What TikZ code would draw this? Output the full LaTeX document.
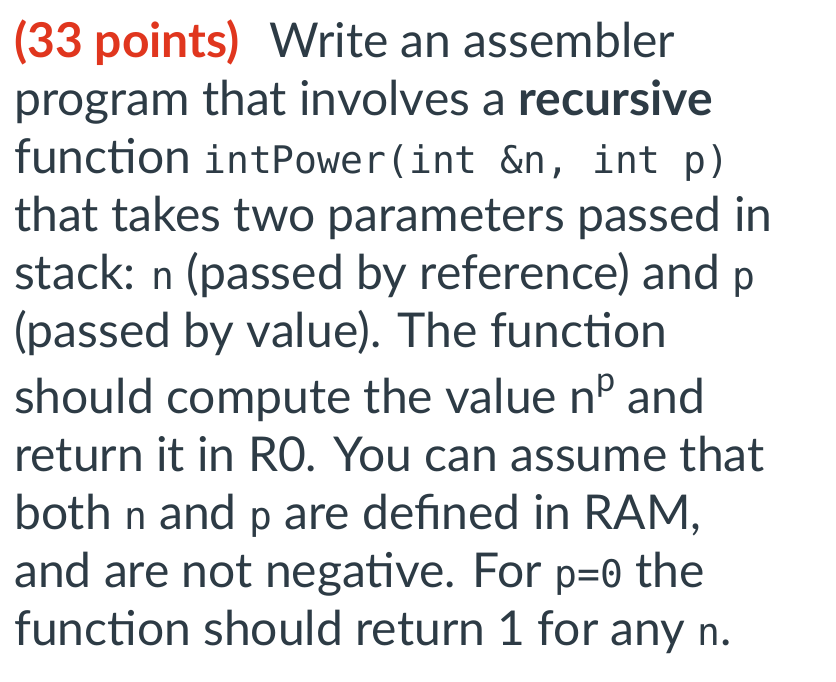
\documentclass[tikz,border=0pt]{standalone}
\usepackage{fontspec}
\setmainfont{Lato}
\newfontfamily\codefont{DejaVu Sans Mono}
\definecolor{txt}{HTML}{2D3B45}
\definecolor{red1}{HTML}{E0361E}
\newcommand{\cd}[1]{{\codefont\fontsize{38pt}{38pt}\selectfont #1}}
\begin{document}
\begin{tikzpicture}[x=1pt,y=1pt,ln/.style={anchor=base west,inner sep=0pt,text=txt,font=\fontsize{48pt}{48pt}\selectfont}]
\useasboundingbox[fill=white] (0,0) rectangle (836,-681);
\node[ln] (l1) at (14,-57) {\textcolor{red1}{\textbf{(33 points)}}\hspace{30pt}Write an assembler};
\node[ln] (l2) at (14,-115) {program that involves a \textbf{recursive}};
\node[ln] (l3) at (14,-173) {function \cd{intPower(int \&n, int p)}};
\node[ln] (l4) at (14,-231) {that takes two parameters passed in};
\node[ln] (l5) at (14,-289) {stack: \cd{n} (passed by reference) and \cd{p}};
\node[ln] (l6) at (14,-347) {(passed by value). The function};
\node[ln] (l7) at (14,-413) {should compute the value n\raisebox{0.45em}{\fontsize{34pt}{34pt}\selectfont p} and};
\node[ln] (l8) at (14,-471) {return it in R0. You can assume that};
\node[ln] (l9) at (14,-529) {both \cd{n} and \cd{p} are defined in RAM,};
\node[ln] (l10) at (14,-587) {and are not negative. For \cd{p=0} the};
\node[ln] (l11) at (14,-645) {function should return 1 for any \cd{n}.};
\end{tikzpicture}
\end{document}
